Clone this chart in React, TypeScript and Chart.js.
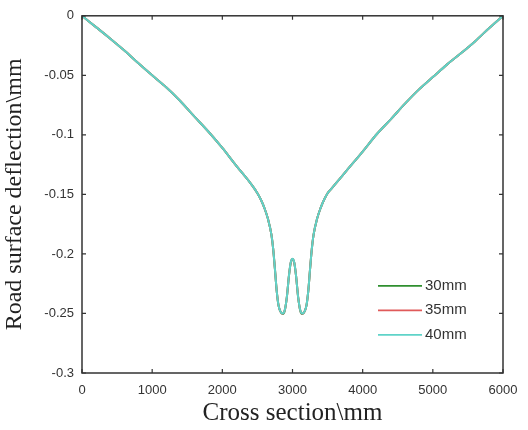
import React, { useEffect, useRef } from "react";
import { Chart, registerables } from "chart.js";

Chart.register(...registerables);

const crossSection = [0, 200, 400, 600, 800, 1000, 1200, 1400, 1600, 1800, 2000, 2200, 2400, 2450, 2500, 2550, 2600, 2650, 2700, 2725, 2750, 2775, 2800, 2825, 2860, 2890, 2920, 2950, 2975, 3000, 3025, 3050, 3080, 3110, 3140, 3175, 3200, 3225, 3250, 3275, 3300, 3350, 3400, 3450, 3500, 3550, 3600, 3800, 4000, 4200, 4400, 4600, 4800, 5000, 5200, 5400, 5600, 5800, 6000];

const deflection30 = [0, -0.0095, -0.019, -0.029, -0.0397, -0.050, -0.060, -0.0715, -0.0845, -0.0972, -0.111, -0.126, -0.1405, -0.1445, -0.149, -0.1545, -0.1615, -0.1705, -0.184, -0.196, -0.213, -0.231, -0.243, -0.248, -0.2505, -0.2475, -0.236, -0.218, -0.2075, -0.2045, -0.2075, -0.218, -0.236, -0.2475, -0.2505, -0.248, -0.243, -0.231, -0.213, -0.196, -0.184, -0.1705, -0.1615, -0.1545, -0.149, -0.1455, -0.142, -0.128, -0.114, -0.0995, -0.087, -0.074, -0.062, -0.0515, -0.041, -0.0315, -0.0215, -0.0105, 0];
const deflection35 = [0, -0.0095, -0.019, -0.029, -0.0397, -0.050, -0.060, -0.0715, -0.0845, -0.0972, -0.111, -0.126, -0.1405, -0.1445, -0.149, -0.1545, -0.1615, -0.1705, -0.184, -0.196, -0.213, -0.231, -0.243, -0.248, -0.2502, -0.2472, -0.236, -0.218, -0.2072, -0.2042, -0.2072, -0.218, -0.236, -0.2472, -0.2502, -0.248, -0.243, -0.231, -0.213, -0.196, -0.184, -0.1705, -0.1615, -0.1545, -0.149, -0.1455, -0.142, -0.128, -0.114, -0.0995, -0.087, -0.074, -0.062, -0.0515, -0.041, -0.0315, -0.0215, -0.0105, 0];
const deflection40 = [0, -0.0095, -0.019, -0.029, -0.0397, -0.050, -0.060, -0.0715, -0.0845, -0.0972, -0.111, -0.126, -0.1405, -0.1445, -0.149, -0.1545, -0.1615, -0.1705, -0.184, -0.196, -0.213, -0.231, -0.243, -0.248, -0.250, -0.247, -0.236, -0.218, -0.207, -0.204, -0.207, -0.218, -0.236, -0.247, -0.250, -0.248, -0.243, -0.231, -0.213, -0.196, -0.184, -0.1705, -0.1615, -0.1545, -0.149, -0.1455, -0.142, -0.128, -0.114, -0.0995, -0.087, -0.074, -0.062, -0.0515, -0.041, -0.0315, -0.0215, -0.0105, 0];

const seriesLabels = ["30mm", "35mm", "40mm"];
const seriesColors = ["#2f8f2f", "#e05a5a", "#5fd3c8"];
const xTicks = [0, 1000, 2000, 3000, 4000, 5000, 6000];
const yTicks = [0, -0.05, -0.1, -0.15, -0.2, -0.25, -0.3];

const framePlugin = {
  id: "frameTicks",
  afterDatasetsDraw(chart: any) {
    const { ctx, chartArea, scales } = chart;
    const { left, right, top, bottom } = chartArea;
    ctx.save();
    ctx.strokeStyle = "#333";
    ctx.lineWidth = 1.5;
    ctx.strokeRect(left, top, right - left, bottom - top);
    ctx.lineWidth = 1.2;
    const tl = 4;
    ctx.beginPath();
    xTicks.forEach((v) => {
      const x = scales.x.getPixelForValue(v);
      ctx.moveTo(x, bottom);
      ctx.lineTo(x, bottom - tl);
      ctx.moveTo(x, top);
      ctx.lineTo(x, top + tl);
    });
    yTicks.forEach((v) => {
      const y = scales.y.getPixelForValue(v);
      ctx.moveTo(left, y);
      ctx.lineTo(left + tl, y);
      ctx.moveTo(right, y);
      ctx.lineTo(right - tl, y);
    });
    ctx.stroke();

    // legend inside plot area
    const lx = left + 296;
    const ly = top + 270;
    const gap = 24.5;
    ctx.font = "15px 'Liberation Sans', Arial, sans-serif";
    ctx.textBaseline = "middle";
    ctx.textAlign = "left";
    seriesLabels.forEach((lab, i) => {
      const y = ly + i * gap;
      ctx.strokeStyle = seriesColors[i];
      ctx.lineWidth = 1.8;
      ctx.beginPath();
      ctx.moveTo(lx, y);
      ctx.lineTo(lx + 44, y);
      ctx.stroke();
      ctx.fillStyle = "#333";
      ctx.fillText(lab, lx + 47, y);
    });
    ctx.restore();
  },
};

export default function App() {
  const canvasRef = useRef<HTMLCanvasElement | null>(null);

  useEffect(() => {
    if (!canvasRef.current) return;
    const mk = (vals: number[]) => crossSection.map((x, i) => ({ x, y: vals[i] }));
    const chart = new Chart(canvasRef.current, {
      type: "line",
      data: {
        datasets: [
          { label: seriesLabels[0], data: mk(deflection30), borderColor: seriesColors[0], borderWidth: 2, pointRadius: 0, cubicInterpolationMode: "monotone", order: 3 },
          { label: seriesLabels[1], data: mk(deflection35), borderColor: seriesColors[1], borderWidth: 2, pointRadius: 0, cubicInterpolationMode: "monotone", order: 2 },
          { label: seriesLabels[2], data: mk(deflection40), borderColor: seriesColors[2], borderWidth: 2, pointRadius: 0, cubicInterpolationMode: "monotone", order: 1 },
        ],
      },
      options: {
        animation: false,
        responsive: false,
        devicePixelRatio: 1,
        layout: { padding: { left: 0, top: 11, right: 25, bottom: 0 } },
        plugins: { legend: { display: false }, tooltip: { enabled: false } },
        scales: {
          x: {
            type: "linear",
            min: 0,
            max: 6000,
            afterBuildTicks: (s: any) => { s.ticks = xTicks.map((v) => ({ value: v })); },
            afterFit: (s: any) => { s.height = 57; },
            grid: { display: false, drawTicks: false },
            border: { display: false },
            ticks: { padding: 10, color: "#333", font: { family: "'Liberation Sans', Arial", size: 13 }, maxRotation: 0, callback: (v: any) => String(v) },
            title: { display: true, text: "Cross section\\mm", color: "#222", font: { family: "'Liberation Serif', 'Times New Roman', serif", size: 25 }, padding: { top: 0, bottom: 2 } },
          },
          y: {
            type: "linear",
            min: -0.3,
            max: 0,
            afterBuildTicks: (s: any) => { s.ticks = yTicks.map((v) => ({ value: v })); },
            afterFit: (s: any) => { s.width = 82; },
            grid: { display: false, drawTicks: false },
            border: { display: false },
            ticks: { padding: 8, color: "#333", font: { family: "'Liberation Sans', Arial", size: 13 }, callback: (v: any) => String(Math.round(v * 100) / 100) },
            title: { display: true, text: "Road surface deflection\\mm", color: "#222", font: { family: "'Liberation Serif', 'Times New Roman', serif", size: 24 }, padding: { top: 0, bottom: 4 } },
          },
        },
      },
      plugins: [framePlugin],
    } as any);
    return () => chart.destroy();
  }, []);

  return (
    <div style={{ position: "fixed", left: 0, top: 0, width: 528, height: 430, background: "#fff" }}>
      <canvas ref={canvasRef} width={528} height={430} style={{ width: 528, height: 430, display: "block" }} />
    </div>
  );
}
